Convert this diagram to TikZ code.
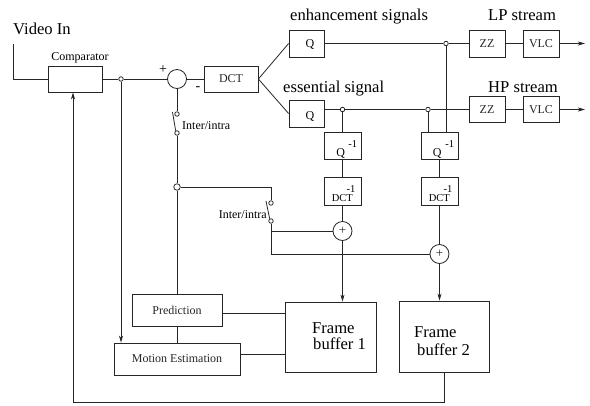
\documentclass[tikz,border=0pt]{standalone}
\usepackage{fontspec}
\setmainfont{Liberation Serif}
\usetikzlibrary{arrows.meta}
\begin{document}
\begin{tikzpicture}[x=1pt,y=-1pt,
  wire/.style={line width=0.8pt, black!85},
  box/.style={draw, wire, inner sep=0pt},
  big/.style={font=\fontsize{16.6}{18}\selectfont, inner sep=0pt},
  small/.style={font=\fontsize{12}{14}\selectfont, inner sep=0pt},
  tiny/.style={font=\fontsize{10.5}{12}\selectfont, inner sep=0pt},
  arr/.style={wire, -{Stealth[length=7pt,width=4pt,inset=2pt]}},
  dot/.style={circle, draw, wire, inner sep=0pt, minimum size=4.5pt},
  bigdot/.style={circle, draw, wire, inner sep=0pt, minimum size=6.5pt},
  sum/.style={circle, draw, wire, inner sep=0pt, minimum size=19pt, font=\fontsize{13}{14}\selectfont}]
\useasboundingbox (0,0) rectangle (590,405);

% texts
\node[big, anchor=base west] (vin) at (13,34) {Video In};
\node[small, anchor=base] (comptxt) at (80,60) {Comparator};
\node[big, anchor=base west] (enh) at (290,20) {enhancement signals};
\node[big, anchor=base west] (lp) at (488,20) {LP stream};
\node[big, anchor=base west] (ess) at (283,92) {essential signal};
\node[big, anchor=base west] (hp) at (488,92) {HP stream};
\node[font=\fontsize{14}{16}\selectfont, inner sep=0pt] (plus) at (163,70) {+};
\node[font=\fontsize{14}{16}\selectfont, inner sep=0pt] (minus) at (198,89) {-};
\node[small, anchor=base west] (sw1txt) at (182,129) {Inter/intra};
\node[small, anchor=base east] (sw2txt) at (267,218) {Inter/intra};

% boxes
\node[box, minimum width=54pt, minimum height=26pt] (comp) at (75,79) {};
\node[box, small, minimum width=54pt, minimum height=26pt] (dct) at (231,79) {DCT};
\node[box, minimum width=35pt, minimum height=27pt] (qup) at (306.5,43.5) {};
\node[small] (quptxt) at (310,44) {Q};
\node[box, minimum width=35pt, minimum height=27pt] (qlo) at (306.5,113.5) {};
\node[small] (qlotxt) at (310,116.5) {Q};
\node[box, small, minimum width=36pt, minimum height=27pt] (zz1) at (487,43.5) {ZZ};
\node[box, small, minimum width=36pt, minimum height=27pt] (vlc1) at (541,43.5) {VLC};
\node[box, small, minimum width=36pt, minimum height=26pt] (zz2) at (487,109.5) {ZZ};
\node[box, small, minimum width=36pt, minimum height=26pt] (vlc2) at (541,109.5) {VLC};

\node[box, minimum width=37pt, minimum height=27pt] (qi1) at (342.5,145.5) {};
\node[small, anchor=base] (qi1q) at (340.7,156) {Q};
\node[tiny, anchor=base] (qi1e) at (352.7,147) {-1};
\node[box, minimum width=37pt, minimum height=27pt] (qi2) at (439.5,145.5) {};
\node[small, anchor=base] (qi2q) at (437.2,156) {Q};
\node[tiny, anchor=base] (qi2e) at (449.7,147) {-1};

\node[box, minimum width=37pt, minimum height=28pt] (dcti1) at (342.5,191) {};
\node[tiny, anchor=base] (dcti1d) at (342.3,201) {DCT};
\node[tiny, anchor=base] (dcti1e) at (351,192) {-1};
\node[box, minimum width=37pt, minimum height=28pt] (dcti2) at (439.5,191) {};
\node[tiny, anchor=base] (dcti2d) at (439.3,201) {DCT};
\node[tiny, anchor=base] (dcti2e) at (448,192) {-1};

\node[box, small, minimum width=90pt, minimum height=32pt] (pred) at (177,310) {Prediction};
\node[box, small, minimum width=126pt, minimum height=32pt] (me) at (177,359) {Motion Estimation};
\node[box, minimum width=91pt, minimum height=70pt] (fb1) at (330.5,337) {};
\node[big, anchor=base west] (fb1a) at (312,333) {Frame};
\node[big, anchor=base west] (fb1b) at (313,349) {buffer 1};
\node[box, minimum width=90pt, minimum height=71pt] (fb2) at (444,336.5) {};
\node[big, anchor=base west] (fb2a) at (414,337) {Frame};
\node[big, anchor=base west] (fb2b) at (417,355) {buffer 2};

% summers
\node[sum] (sub) at (177,79) {};
\node[sum] (add1) at (342.5,231) {+};
\node[sum] (add2) at (439.5,254) {+};

% junctions and switch contacts
\node[dot] (j1) at (121,79) {};
\node[dot] (j2) at (446,43.5) {};
\node[dot] (j3) at (342.5,109.5) {};
\node[dot] (j4) at (428,109.5) {};
\node[bigdot] (j5) at (177,187) {};
\node[dot] (s1a) at (177,114) {};
\node[dot] (s1b) at (177,133) {};
\node[dot] (s2a) at (271,203) {};
\node[dot] (s2b) at (271,221) {};
\coordinate (b1) at (172.5,112);
\coordinate (b2) at (266,201);

\coordinate (vtop) at (13,44);
\coordinate (out1) at (585,43.5);
\coordinate (out2) at (585,109.5);
\coordinate (py) at (0,313);
\coordinate (my) at (0,354);
\coordinate (fbk) at (73,402);

% wires
\draw[wire] (vtop) -- (vtop |- comp) -- (comp);
\draw[wire] (comp) -- (j1) -- (sub);
\draw[arr] (j1) -- (j1 |- me.north);
\draw[wire] (sub) -- (dct);
\draw[wire] (dct.east) -- (qup.west);
\draw[wire] (dct.east) -- (qlo.west);
\draw[wire] (qup) -- (j2) -- (zz1);
\draw[wire] (zz1) -- (vlc1);
\draw[arr] (vlc1) -- (out1);
\draw[wire] (qlo.east |- zz2) -- (j3) -- (j4) -- (zz2);
\draw[wire] (zz2) -- (vlc2);
\draw[arr] (vlc2) -- (out2);
\draw[wire] (j3) -- (qi1);
\draw[wire] (j4) -- (j4 |- qi2.north);
\draw[wire] (j2) -- (j2 |- qi2.north);
\draw[wire] (qi1) -- (dcti1) -- (add1);
\draw[wire] (qi2) -- (dcti2) -- (add2);
\draw[arr] (add1) -- (add1 |- fb1.north);
\draw[arr] (add2) -- (add2 |- fb2.north);

\draw[wire] (sub) -- (s1a);
\draw[wire] (s1b.120) -- (b1);
\draw[wire] (s1b) -- (j5) -- (pred);
\draw[wire] (j5) -- (j5 -| s2a) -- (s2a);
\draw[wire] (s2b.120) -- (b2);
\draw[wire] (s2b) -- (s2b |- add2) -- (add2);
\draw[wire] (s2b |- add1) -- (add1);

\draw[wire] (pred) -- (me);
\draw[wire] (pred.east |- py) -- (fb1.west |- py);
\draw[wire] (me.east |- my) -- (fb1.west |- my);
\draw[arr] (fb2.south) -- (fb2.south |- fbk) -- (fbk) -- (fbk |- comp.south);
\end{tikzpicture}
\end{document}
